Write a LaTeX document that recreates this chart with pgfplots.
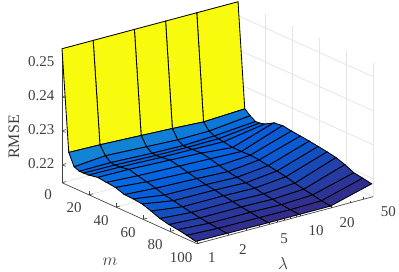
\documentclass[border=0pt]{standalone}
\usepackage{fontspec}
\setmainfont{Liberation Serif}
\usepackage{pgfplots}
\pgfplotsset{compat=1.18}
\definecolor{tk}{HTML}{404040}
\pgfplotsset{colormap={par}{rgb255(0cm)=(53,42,135); rgb255(1cm)=(3,99,225); rgb255(2cm)=(20,133,212); rgb255(3cm)=(6,167,198); rgb255(4cm)=(56,185,158); rgb255(5cm)=(146,191,115); rgb255(6cm)=(217,186,86); rgb255(7cm)=(252,206,46); rgb255(8cm)=(249,251,14)}}
\begin{document}
\begin{tikzpicture}[x=1pt,y=1pt]
\useasboundingbox (0,0) rectangle (399,272);
\begin{axis}[
  at={(62pt,89.3pt)}, anchor=origin, disabledatascaling,
  x={(1.35pt,-0.61pt)}, y={(103.6pt,27.66pt)}, z={(0pt,3400pt)},
  ymode=log, log basis y=10,
  xmin=0,xmax=100,ymin=1,ymax=50,zmin=0.2147,zmax=0.2541,
  xtick={0,20,40,60,80,100}, ytick={1,2,5,10,20,50}, ztick={0.22,0.23,0.24,0.25},
  minor ytick={3,4,6,7,8,9,30,40},
  yticklabels={1,2,5,10,20,50},
  zticklabels={0.22,0.23,0.24,0.25},
  axis x line*=bottom, axis y line*=left, axis z line*=left,
  grid=major, major grid style={draw=black!10, line width=0.8pt},
  axis line style={draw=tk,line width=0.6pt},
  tick style={draw=tk,line width=0.6pt},
  major tick length=4pt, minor tick length=2pt,
  tick label style={font=\fontsize{15}{15}\selectfont, text=tk},
  xticklabel style={xshift=-7pt,yshift=-3pt},
  yticklabel style={xshift=9pt,yshift=-5pt},
  zticklabel style={xshift=-4pt},
  /pgf/number format/assume math mode=true,
  colormap name=par, point meta min=0.215, point meta max=0.2541,
  clip=false,
]
\addplot3[surf, shader=flat corner, draw=black, line width=0.85pt, z buffer=sort, mesh/rows=18, mesh/cols=6] table[row sep=\\] {
x y z\\
0 1 .2541\\ 0 2 .2541\\ 0 5 .2541\\ 0 10 .2541\\ 0 20 .2541\\ 0 50 .2541\\
5 1 .2245\\ 5 2 .2243\\ 5 5 .2238\\ 5 10 .2234\\ 5 20 .2229\\ 5 50 .2235\\
9 1 .2210\\ 9 2 .2218\\ 9 5 .2212\\ 9 10 .2208\\ 9 20 .2209\\ 9 50 .2222\\
13 1 .2204\\ 13 2 .2205\\ 13 5 .2200\\ 13 10 .2198\\ 13 20 .2202\\ 13 50 .2212\\
16 1 .2204\\ 16 2 .2203\\ 16 5 .2199\\ 16 10 .2198\\ 16 20 .2199\\ 16 50 .2213\\
19.8 1 .2205\\ 19.8 2 .2204\\ 19.8 5 .2200\\ 19.8 10 .2199\\ 19.8 20 .2197\\ 19.8 50 .2217\\
26.4 1 .2210\\ 26.4 2 .2209\\ 26.4 5 .2204\\ 26.4 10 .2200\\ 26.4 20 .2192\\ 26.4 50 .2232\\
33 1 .2207\\ 33 2 .2202\\ 33 5 .2198\\ 33 10 .2195\\ 33 20 .2192\\ 33 50 .2236\\
39.6 1 .2204\\ 39.6 2 .2196\\ 39.6 5 .2191\\ 39.6 10 .2187\\ 39.6 20 .2193\\ 39.6 50 .2232\\
46.2 1 .2195\\ 46.2 2 .2189\\ 46.2 5 .2185\\ 46.2 10 .2181\\ 46.2 20 .2191\\ 46.2 50 .2229\\
52.8 1 .2194\\ 52.8 2 .2181\\ 52.8 5 .2179\\ 52.8 10 .2176\\ 52.8 20 .2186\\ 52.8 50 .2226\\
59.4 1 .2191\\ 59.4 2 .2176\\ 59.4 5 .2175\\ 59.4 10 .2172\\ 59.4 20 .2182\\ 59.4 50 .2222\\
66 1 .2182\\ 66 2 .2170\\ 66 5 .2170\\ 66 10 .2168\\ 66 20 .2177\\ 66 50 .2218\\
72.6 1 .2172\\ 72.6 2 .2165\\ 72.6 5 .2165\\ 72.6 10 .2163\\ 72.6 20 .2170\\ 72.6 50 .2213\\
79.2 1 .2166\\ 79.2 2 .2161\\ 79.2 5 .2161\\ 79.2 10 .2159\\ 79.2 20 .2164\\ 79.2 50 .2204\\
85.8 1 .2163\\ 85.8 2 .2157\\ 85.8 5 .2157\\ 85.8 10 .2155\\ 85.8 20 .2159\\ 85.8 50 .2192\\
92.4 1 .2158\\ 92.4 2 .2154\\ 92.4 5 .2153\\ 92.4 10 .2152\\ 92.4 20 .2154\\ 92.4 50 .2188\\
99 1 .2152\\ 99 2 .2151\\ 99 5 .2150\\ 99 10 .2150\\ 99 20 .2150\\ 99 50 .2183\\
};
\end{axis}
\node[font=\fontsize{16}{16}\selectfont,text=tk,rotate=90] at (14,135) {RMSE};
\node[font=\fontsize{18}{18}\selectfont,text=tk] at (110,10) {$m$};
\node[font=\fontsize{18}{18}\selectfont,text=tk] at (283,8) {$\lambda$};
\end{tikzpicture}
\end{document}
